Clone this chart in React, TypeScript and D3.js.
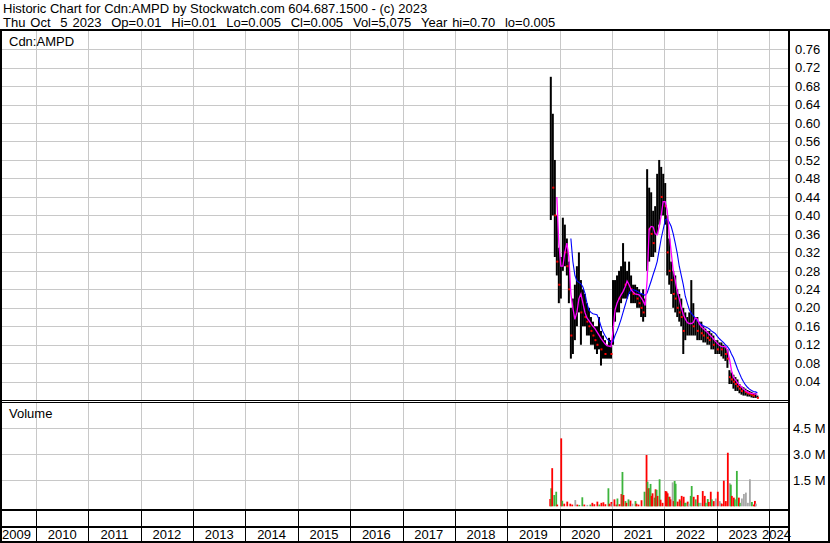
import React from "react";
import * as d3 from "d3";

const titleLine1 = "Historic Chart for Cdn:AMPD by Stockwatch.com 604.687.1500 - (c) 2023";
const titleLine2 = "Thu Oct  5 2023  Op=0.01  Hi=0.01  Lo=0.005  Cl=0.005  Vol=5,075  Year hi=0.70  lo=0.005";
const symbolLabel = "Cdn:AMPD";
const volumeLabel = "Volume";

const yearTicks = [2009, 2010, 2011, 2012, 2013, 2014, 2015, 2016, 2017, 2018, 2019, 2020, 2021, 2022, 2023, 2024];
const priceTicks = [0.04, 0.08, 0.12, 0.16, 0.2, 0.24, 0.28, 0.32, 0.36, 0.4, 0.44, 0.48, 0.52, 0.56, 0.6, 0.64, 0.68, 0.72, 0.76];
const volumeTicks = [1.5, 3.0, 4.5];
const volumeTickLabels = ["1.5 M", "3.0 M", "4.5 M"];

const barDates = [
  "2019-10-25", "2019-11-08", "2019-11-22", "2019-12-06", "2019-12-20",
  "2020-01-03", "2020-01-17", "2020-01-31", "2020-02-14", "2020-02-28", "2020-03-13", "2020-03-27", "2020-04-10", "2020-04-24", "2020-05-08", "2020-05-22", "2020-06-05", "2020-06-19", "2020-07-03", "2020-07-17", "2020-07-31", "2020-08-14", "2020-08-28", "2020-09-11", "2020-09-25", "2020-10-09", "2020-10-23", "2020-11-06", "2020-11-20", "2020-12-04", "2020-12-18",
  "2021-01-01", "2021-01-15", "2021-01-29", "2021-02-12", "2021-02-26", "2021-03-12", "2021-03-26", "2021-04-09", "2021-04-23", "2021-05-07", "2021-05-21", "2021-06-04", "2021-06-18", "2021-07-02", "2021-07-16", "2021-07-30", "2021-08-13", "2021-08-27", "2021-09-10", "2021-09-24", "2021-10-08", "2021-10-22", "2021-11-05", "2021-11-19", "2021-12-03", "2021-12-17", "2021-12-31",
  "2022-01-14", "2022-01-28", "2022-02-11", "2022-02-25", "2022-03-11", "2022-03-25", "2022-04-08", "2022-04-22", "2022-05-06", "2022-05-20", "2022-06-03", "2022-06-17", "2022-07-01", "2022-07-15", "2022-07-29", "2022-08-12", "2022-08-26", "2022-09-09", "2022-09-23", "2022-10-07", "2022-10-21", "2022-11-04", "2022-11-18", "2022-12-02", "2022-12-16", "2022-12-30",
  "2023-01-13", "2023-01-27", "2023-02-10", "2023-02-24", "2023-03-10", "2023-03-24", "2023-04-07", "2023-04-21", "2023-05-05", "2023-05-19", "2023-06-02", "2023-06-16", "2023-06-30", "2023-07-14", "2023-07-28", "2023-08-11", "2023-08-25", "2023-09-08", "2023-09-22", "2023-10-05",
];

const barHigh = [
  0.70, 0.62, 0.52, 0.40, 0.33,
  0.31, 0.395, 0.38, 0.35, 0.30, 0.20, 0.22, 0.25, 0.29, 0.32, 0.26, 0.24, 0.23, 0.21, 0.20, 0.18, 0.17, 0.16, 0.16, 0.18, 0.15, 0.14, 0.13, 0.12, 0.135, 0.13,
  0.26, 0.26, 0.27, 0.28, 0.29, 0.34, 0.30, 0.28, 0.30, 0.27, 0.25, 0.25, 0.245, 0.24, 0.23, 0.24, 0.22, 0.50, 0.46, 0.45, 0.41, 0.42, 0.49, 0.52, 0.505, 0.49, 0.47,
  0.40, 0.35, 0.30, 0.28, 0.27, 0.24, 0.23, 0.22, 0.20, 0.19, 0.18, 0.19, 0.26, 0.21, 0.18, 0.18, 0.17, 0.17, 0.16, 0.155, 0.15, 0.15, 0.145, 0.14, 0.13, 0.13,
  0.125, 0.125, 0.12, 0.115, 0.11, 0.065, 0.06, 0.055, 0.05, 0.045, 0.035, 0.03, 0.028, 0.025, 0.022, 0.02, 0.018, 0.016, 0.015, 0.01,
];

const barLow = [
  0.39, 0.40, 0.31, 0.27, 0.21,
  0.22, 0.28, 0.29, 0.27, 0.21, 0.09, 0.10, 0.13, 0.16, 0.19, 0.12, 0.16, 0.16, 0.14, 0.14, 0.12, 0.12, 0.11, 0.10, 0.11, 0.075, 0.09, 0.09, 0.09, 0.09, 0.09,
  0.12, 0.17, 0.19, 0.19, 0.21, 0.22, 0.22, 0.22, 0.23, 0.21, 0.21, 0.21, 0.20, 0.20, 0.18, 0.17, 0.18, 0.28, 0.30, 0.31, 0.31, 0.32, 0.36, 0.38, 0.40, 0.40, 0.38,
  0.27, 0.25, 0.23, 0.20, 0.19, 0.18, 0.17, 0.16, 0.10, 0.13, 0.14, 0.14, 0.14, 0.14, 0.14, 0.13, 0.13, 0.13, 0.125, 0.125, 0.12, 0.12, 0.11, 0.11, 0.10, 0.10,
  0.10, 0.095, 0.09, 0.085, 0.07, 0.035, 0.035, 0.025, 0.02, 0.02, 0.015, 0.012, 0.01, 0.01, 0.008, 0.008, 0.006, 0.005, 0.005, 0.005,
];

const barClose = [
  0.55, 0.46, 0.40, 0.30, 0.25,
  0.25, 0.34, 0.32, 0.29, 0.24, 0.14, 0.15, 0.19, 0.22, 0.24, 0.19, 0.20, 0.18, 0.17, 0.16, 0.15, 0.14, 0.13, 0.12, 0.13, 0.11, 0.11, 0.10, 0.10, 0.11, 0.10,
  0.21, 0.21, 0.23, 0.22, 0.24, 0.26, 0.25, 0.25, 0.26, 0.24, 0.23, 0.23, 0.22, 0.21, 0.20, 0.19, 0.20, 0.40, 0.37, 0.36, 0.34, 0.35, 0.42, 0.45, 0.44, 0.44, 0.42,
  0.32, 0.28, 0.26, 0.23, 0.22, 0.20, 0.19, 0.18, 0.15, 0.15, 0.15, 0.16, 0.17, 0.16, 0.16, 0.15, 0.15, 0.145, 0.14, 0.14, 0.135, 0.13, 0.13, 0.12, 0.12, 0.11,
  0.115, 0.11, 0.11, 0.10, 0.09, 0.05, 0.045, 0.04, 0.035, 0.03, 0.025, 0.02, 0.02, 0.018, 0.015, 0.014, 0.012, 0.01, 0.01, 0.005,
];

const maShort = [
  null, null, null, 0.44, 0.34,
  0.29, 0.29, 0.32, 0.34, 0.31, 0.23, 0.20, 0.175, 0.19, 0.22, 0.23, 0.21, 0.19, 0.178, 0.172, 0.166, 0.16, 0.155, 0.148, 0.141, 0.134, 0.128, 0.122, 0.118, 0.117, 0.116,
  0.15, 0.195, 0.21, 0.22, 0.228, 0.235, 0.245, 0.258, 0.25, 0.239, 0.234, 0.23, 0.229, 0.228, 0.222, 0.215, 0.205, 0.26, 0.37, 0.376, 0.375, 0.36, 0.358, 0.375, 0.40, 0.43, 0.43,
  0.41, 0.36, 0.32, 0.28, 0.26, 0.235, 0.22, 0.20, 0.186, 0.176, 0.168, 0.166, 0.166, 0.168, 0.178, 0.176, 0.165, 0.159, 0.155, 0.151, 0.147, 0.142, 0.138, 0.133, 0.128, 0.123,
  0.119, 0.116, 0.116, 0.116, 0.108, 0.09, 0.065, 0.05, 0.044, 0.038, 0.033, 0.029, 0.024, 0.021, 0.018, 0.016, 0.015, 0.014, 0.013, 0.013,
];

const maLong = [
  null, null, null, null, null,
  null, null, null, null, null, 0.35, 0.30, 0.27, 0.258, 0.255, 0.252, 0.245, 0.232, 0.21, 0.195, 0.19, 0.187, 0.186, 0.185, 0.175, 0.16, 0.148, 0.14, 0.133, 0.128, 0.124,
  0.127, 0.14, 0.15, 0.162, 0.175, 0.19, 0.205, 0.22, 0.232, 0.239, 0.239, 0.238, 0.236, 0.233, 0.231, 0.229, 0.227, 0.232, 0.245, 0.258, 0.272, 0.285, 0.30, 0.325, 0.35, 0.37, 0.39,
  0.393, 0.385, 0.376, 0.36, 0.34, 0.318, 0.29, 0.27, 0.25, 0.225, 0.21, 0.196, 0.188, 0.183, 0.177, 0.172, 0.167, 0.164, 0.161, 0.159, 0.157, 0.154, 0.15, 0.147, 0.144, 0.138,
  0.133, 0.129, 0.125, 0.12, 0.116, 0.11, 0.10, 0.092, 0.08, 0.068, 0.058, 0.048, 0.04, 0.033, 0.028, 0.024, 0.021, 0.019, 0.018, 0.016,
];

const volDates = [
  "2019-10-25", "2019-11-01", "2019-11-08", "2019-11-22", "2019-12-06", "2019-12-13",
  "2020-01-10", "2020-01-17", "2020-01-31", "2020-02-21", "2020-03-13", "2020-03-27", "2020-04-17", "2020-05-01", "2020-05-15", "2020-06-05", "2020-06-19", "2020-07-10", "2020-07-31", "2020-08-14", "2020-08-28", "2020-09-18", "2020-10-02", "2020-10-16", "2020-10-30", "2020-11-13", "2020-12-04", "2020-12-11", "2020-12-25",
  "2021-01-01", "2021-01-15", "2021-01-29", "2021-02-05", "2021-02-19", "2021-03-05", "2021-03-12", "2021-03-19", "2021-04-02", "2021-04-09", "2021-04-23", "2021-05-07", "2021-05-21", "2021-06-11", "2021-06-18", "2021-07-02", "2021-07-23", "2021-08-13", "2021-08-27", "2021-09-03", "2021-09-10", "2021-09-17", "2021-09-24", "2021-10-01", "2021-10-08", "2021-10-22", "2021-10-29", "2021-11-05", "2021-11-12", "2021-11-26", "2021-12-03", "2021-12-17",
  "2022-01-07", "2022-01-14", "2022-01-21", "2022-01-28", "2022-02-04", "2022-02-11", "2022-02-25", "2022-03-04", "2022-03-11", "2022-03-18", "2022-04-01", "2022-04-15", "2022-04-22", "2022-04-29", "2022-05-13", "2022-05-20", "2022-05-27", "2022-06-10", "2022-06-17", "2022-07-01", "2022-07-08", "2022-07-22", "2022-08-05", "2022-08-19", "2022-08-26", "2022-09-09", "2022-09-23", "2022-10-07", "2022-10-14", "2022-10-28", "2022-11-04", "2022-11-18", "2022-11-25", "2022-12-09", "2022-12-23",
  "2023-01-06", "2023-01-20", "2023-01-27", "2023-02-03", "2023-02-17", "2023-03-03", "2023-03-17", "2023-03-31", "2023-04-07", "2023-04-14", "2023-04-28", "2023-05-05", "2023-05-19", "2023-06-02", "2023-06-09", "2023-06-23", "2023-07-07", "2023-07-21", "2023-08-04", "2023-08-18", "2023-09-01", "2023-09-15", "2023-09-22", "2023-09-29",
];

const volMillions = [
  0.42, 1.04, 2.2, 0.65, 0.84, 0.1,
  3.92, 0.32, 0.15, 0.27, 0.15, 0.1, 0.36, 0.1, 0.08, 0.52, 0.1, 0.08, 0.1, 0.2, 0.12, 0.27, 0.1, 0.2, 0.23, 0.12, 1.04, 0.15, 0.25,
  0.15, 0.4, 0.1, 0.45, 0.12, 0.71, 1.98, 0.65, 0.3, 0.2, 0.4, 0.33, 0.15, 0.3, 0.15, 0.1, 0.35, 0.84, 2.96, 1.42, 1.04, 1.04, 1.29, 0.6, 0.75, 0.5, 0.98, 0.95, 0.6, 1.56, 0.38, 0.2,
  0.88, 0.85, 0.75, 0.55, 0.55, 0.4, 1.38, 0.3, 1.46, 1.3, 0.27, 0.4, 0.32, 0.6, 0.55, 0.2, 0.2, 0.27, 0.15, 0.6, 1.17, 0.55, 0.4, 0.65, 0.2, 0.2, 0.88, 0.6, 0.2, 0.42, 0.25, 0.84, 0.4, 0.3, 0.45,
  0.84, 0.3, 0.2, 0.15, 1.48, 0.3, 3.09, 1.33, 1.25, 0.6, 0.5, 0.4, 2.04, 0.5, 0.2, 0.45, 0.71, 0.79, 0.2, 1.56, 0.25, 0.1, 0.31, 0.15,
];

const volDirection = [
  "down", "up", "down", "up", "up", "down",
  "down", "up", "down", "down", "down", "down", "flat", "down", "up", "up", "down", "flat", "up", "down", "down", "down", "up", "down", "down", "down", "up", "down", "down",
  "flat", "down", "down", "up", "down", "down", "up", "down", "up", "down", "up", "down", "flat", "up", "down", "down", "down", "up", "down", "up", "down", "up", "up", "down", "down", "up", "down", "up", "down", "up", "down", "down",
  "down", "down", "down", "up", "down", "down", "flat", "down", "up", "up", "down", "down", "up", "down", "down", "up", "up", "down", "flat", "up", "up", "down", "up", "down", "up", "flat", "down", "down", "up", "up", "down", "down", "up", "down", "flat",
  "down", "flat", "flat", "down", "down", "down", "down", "flat", "up", "down", "down", "up", "up", "down", "up", "flat", "flat", "flat", "flat", "flat", "up", "down", "down", "flat",
];

const FONT = "'Liberation Sans', Arial, Helvetica, sans-serif";
const GRID = "#c8c8c8";
const dirColor: Record<string, string> = { up: "#3cb43c", down: "#ff0000", flat: "#a8a8a8" };

const keepSpaces = (s: string) => s.replace(/ /g, "\u00A0");

export default function App() {
  const parse = d3.timeParse("%Y-%m-%d");
  const x = d3.scaleTime().domain([new Date(2010, 0, 1), new Date(2024, 0, 1)]).range([36, 769]);
  const yP = d3.scaleLinear().domain([0, 0.8]).range([400.2, 30.6]);
  const yV = d3.scaleLinear().domain([0, 6]).range([506.3, 402.3]);

  const plotL = 2;
  const plotR = 788;
  const snap = (v: number) => Math.round(v) + 0.5;

  const bars = barDates.map((d, i) => ({
    date: parse(d) as Date,
    hi: barHigh[i],
    lo: barLow[i],
    cl: barClose[i],
    prev: i > 0 ? barClose[i - 1] : barClose[i],
    ms: maShort[i],
    ml: maLong[i],
  }));

  const lineShort = d3
    .line<any>()
    .defined((d) => d.ms != null)
    .x((d) => x(d.date) + 1)
    .y((d) => yP(d.ms));
  const lineLong = d3
    .line<any>()
    .defined((d) => d.ml != null)
    .x((d) => x(d.date) + 1)
    .y((d) => yP(d.ml));

  const vols = volDates.map((d, i) => ({ date: parse(d) as Date, v: volMillions[i], dir: volDirection[i] }));

  const gridYears = yearTicks.filter((y) => y >= 2010);

  const textStyle: React.CSSProperties = { fontFamily: FONT, fontSize: 13, fill: "#000" };

  return (
    <svg
      width={830}
      height={543}
      style={{ position: "absolute", left: 0, top: 0, background: "#fff" }}
    >
      <rect x={0} y={0} width={830} height={543} fill="#fff" />
      {/* Header */}
      <text x={3} y={13} style={textStyle}>{keepSpaces(titleLine1)}</text>
      <text x={3} y={27} style={{ ...textStyle, wordSpacing: "1.3px" }}>{keepSpaces(titleLine2)}</text>

      {/* Vertical grid */}
      {gridYears.map((yr) => {
        const gx = snap(x(new Date(yr, 0, 1)));
        return (
          <g key={"vg" + yr}>
            <line x1={gx} x2={gx} y1={31} y2={400} stroke={GRID} strokeWidth={1} />
            <line x1={gx} x2={gx} y1={403} y2={509} stroke={GRID} strokeWidth={1} />
          </g>
        );
      })}
      {/* Horizontal price grid */}
      {priceTicks.map((t) => (
        <line key={"pg" + t} x1={plotL} x2={plotR} y1={snap(yP(t))} y2={snap(yP(t))} stroke={GRID} strokeWidth={1} />
      ))}
      {volumeTicks.map((t) => (
        <line key={"vgl" + t} x1={plotL} x2={plotR} y1={snap(yV(t))} y2={snap(yV(t))} stroke={GRID} strokeWidth={1} />
      ))}

      {/* Price bars */}
      {bars.map((b, i) => {
        const x0 = x(b.date);
        const x1 = i < bars.length - 1 ? x(bars[i + 1].date) : x0 + 2;
        return (
          <rect
            key={"b" + i}
            x={x0}
            y={yP(b.hi)}
            width={Math.max(1, x1 - x0)}
            height={Math.max(1, yP(b.lo) - yP(b.hi))}
            fill="#000"
          />
        );
      })}
      {bars.map((b, i) =>
        b.cl < b.prev ? (
          <rect key={"c" + i} x={x(b.date) + 0.5} y={yP(b.cl) - 1} width={2} height={2} fill="#ff0000" />
        ) : null
      )}
      <path d={lineLong(bars) || ""} fill="none" stroke="#0000ff" strokeWidth={1.1} />
      <path d={lineShort(bars) || ""} fill="none" stroke="#ff00ff" strokeWidth={1.3} />

      {/* Volume bars */}
      {vols.map((v, i) => (
        <rect
          key={"v" + i}
          x={x(v.date) - 0.5}
          y={yV(v.v)}
          width={1.8}
          height={yV(0) - yV(v.v)}
          fill={dirColor[v.dir]}
        />
      ))}

      {/* Labels inside panels */}
      <text x={9} y={46} style={textStyle}>{symbolLabel}</text>
      <text x={9} y={418} style={textStyle}>{volumeLabel}</text>

      {/* Right axis labels */}
      {priceTicks.map((t) => (
        <text key={"pl" + t} x={795} y={yP(t)} dy="0.36em" style={textStyle}>
          {t.toFixed(2)}
        </text>
      ))}
      {volumeTicks.map((t, i) => (
        <text key={"vl" + t} x={793} y={yV(t)} dy="0.36em" style={textStyle}>
          {keepSpaces(volumeTickLabels[i])}
        </text>
      ))}

      {/* Price/volume separator */}
      <line x1={plotL} x2={plotR} y1={400.5} y2={400.5} stroke="#000" strokeWidth={1} />
      <line x1={plotL} x2={plotR} y1={402.5} y2={402.5} stroke="#000" strokeWidth={1} />
      {/* Volume bottom and strip */}
      <line x1={0} x2={789} y1={510} y2={510} stroke="#000" strokeWidth={2} />
      <line x1={0} x2={789} y1={527} y2={527} stroke="#000" strokeWidth={2} />
      {gridYears.map((yr) => {
        const gx = snap(x(new Date(yr, 0, 1)));
        return <line key={"sep" + yr} x1={gx} x2={gx} y1={511} y2={541} stroke="#000" strokeWidth={1} />;
      })}

      {/* Year labels */}
      {yearTicks.map((yr) => {
        const a = Math.max(2, x(new Date(yr, 0, 1)));
        const b = Math.min(789, x(new Date(yr + 1, 0, 1)));
        let tx = (a + b) / 2;
        let anchor: "start" | "middle" | "end" = "middle";
        if (yr === yearTicks[0]) {
          tx = 2;
          anchor = "start";
        } else if (yr === yearTicks[yearTicks.length - 1]) {
          tx = 791;
          anchor = "end";
        }
        return (
          <text key={"yl" + yr} x={tx} y={539} textAnchor={anchor} style={textStyle}>
            {yr}
          </text>
        );
      })}

      {/* Frame */}
      <line x1={0} x2={830} y1={30} y2={30} stroke="#000" strokeWidth={2} />
      <line x1={0} x2={830} y1={542} y2={542} stroke="#000" strokeWidth={2} />
      <line x1={1} x2={1} y1={29} y2={543} stroke="#000" strokeWidth={2} />
      <line x1={789} x2={789} y1={29} y2={543} stroke="#000" strokeWidth={2} />
      <line x1={829} x2={829} y1={29} y2={543} stroke="#000" strokeWidth={2} />
    </svg>
  );
}
